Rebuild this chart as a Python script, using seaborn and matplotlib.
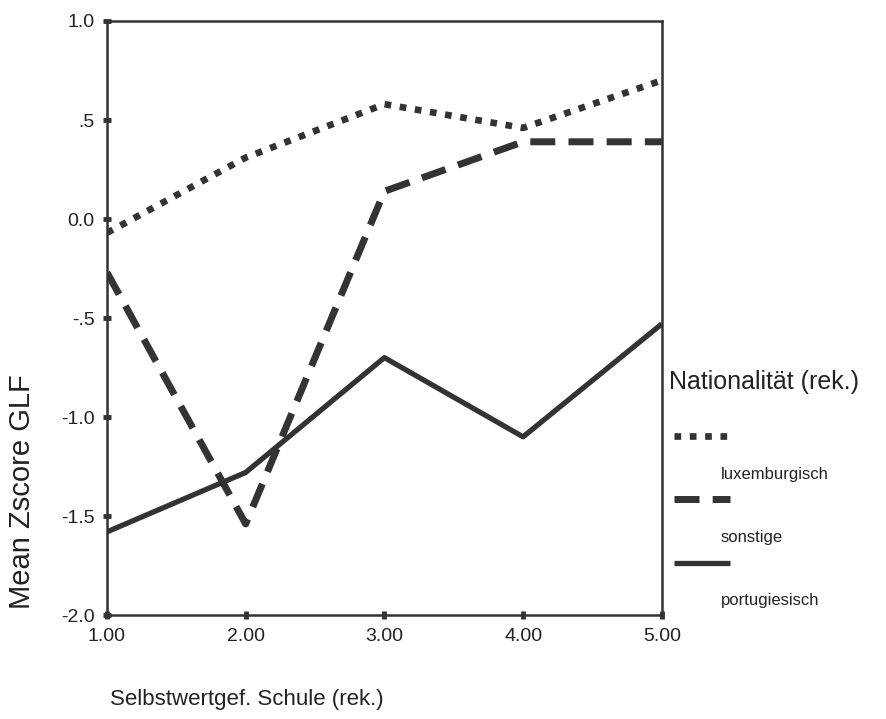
import matplotlib.pyplot as plt
import pandas as pd
import seaborn as sns

# Werte
schule = [1.0, 2.0, 3.0, 4.0, 5.0]
luxemburgisch = [-0.07, 0.31, 0.58, 0.46, 0.70]
sonstige = [-0.27, -1.54, 0.14, 0.39, 0.39]
portugiesisch = [-1.58, -1.28, -0.70, -1.10, -0.53]
gruppen = ['luxemburgisch', 'sonstige', 'portugiesisch']

x_ticks = [1.0, 2.0, 3.0, 4.0, 5.0]
x_ticklabels = ['1.00', '2.00', '3.00', '4.00', '5.00']
y_ticks = [1.0, 0.5, 0.0, -0.5, -1.0, -1.5, -2.0]
y_ticklabels = ['1.0', '.5', '0.0', '-.5', '-1.0', '-1.5', '-2.0']

df = pd.DataFrame({
    'Selbstwertgef. Schule (rek.)': schule * 3,
    'Mean Zscore GLF': luxemburgisch + sonstige + portugiesisch,
    'Nationalität (rek.)': [g for g in gruppen for _ in schule],
})

sns.set_theme(style='ticks')
plt.rcParams['font.family'] = ['Liberation Sans', 'DejaVu Sans']

grau = '#333333'
text_farbe = '#222222'
fig = plt.figure(figsize=(8.87, 7.19), dpi=100)
ax = fig.add_axes([0.1206, 0.1446, 0.6255, 0.8262])

breiten = {'luxemburgisch': 4.8, 'sonstige': 5.0, 'portugiesisch': 3.8}
muster = {'luxemburgisch': (1.0, 1.3), 'sonstige': (3.6, 1.9), 'portugiesisch': ''}
for g in gruppen:
    sns.lineplot(data=df[df['Nationalität (rek.)'] == g],
                 x='Selbstwertgef. Schule (rek.)', y='Mean Zscore GLF',
                 color=grau, linewidth=breiten[g], ax=ax, legend=False,
                 label=g)
for line, g in zip(ax.get_lines(), gruppen):
    if muster[g]:
        line.set_dashes(muster[g])
    line.set_solid_capstyle('butt')
    line.set_dash_capstyle('butt')

ax.set_xlim(1, 5)
ax.set_ylim(-2, 1)
ax.set_xticks(x_ticks, x_ticklabels)
ax.set_yticks(y_ticks, y_ticklabels)
ax.tick_params(direction='inout', length=6, width=3.5, color=grau,
               labelsize=14, labelcolor=text_farbe, pad=6)
for side in ['left', 'right', 'top', 'bottom']:
    ax.spines[side].set_visible(True)
    ax.spines[side].set_color(grau)
    ax.spines[side].set_linewidth(1.8)

ax.set_xlabel('Selbstwertgef. Schule (rek.)', fontsize=16, color=text_farbe)
ax.xaxis.set_label_coords(0.005, -0.125)
ax.xaxis.label.set_horizontalalignment('left')
ax.set_ylabel('Mean Zscore GLF', fontsize=21, color=text_farbe)
ax.yaxis.set_label_coords(-0.128, 0.207)

# Legende: Linien ueber den Beschriftungen (SPSS-Stil)
leg = ax.legend(ax.get_lines()[:3], ['', '', ''], loc='upper left',
                bbox_to_anchor=(1.0217, 0.3114), frameon=False, fontsize=12,
                handlelength=3.4, handletextpad=0, labelspacing=2.89,
                borderpad=0, borderaxespad=0)
ax.text(1.0126, 0.392, 'Nationalität (rek.)', transform=ax.transAxes,
        fontsize=18, color=text_farbe, va='center', ha='left')
for g, y in zip(gruppen, [0.2374, 0.1313, 0.0253]):
    ax.text(1.1065, y, g, transform=ax.transAxes, fontsize=12,
            color=text_farbe, va='center', ha='left')

fig.savefig('out.png', dpi=100)
